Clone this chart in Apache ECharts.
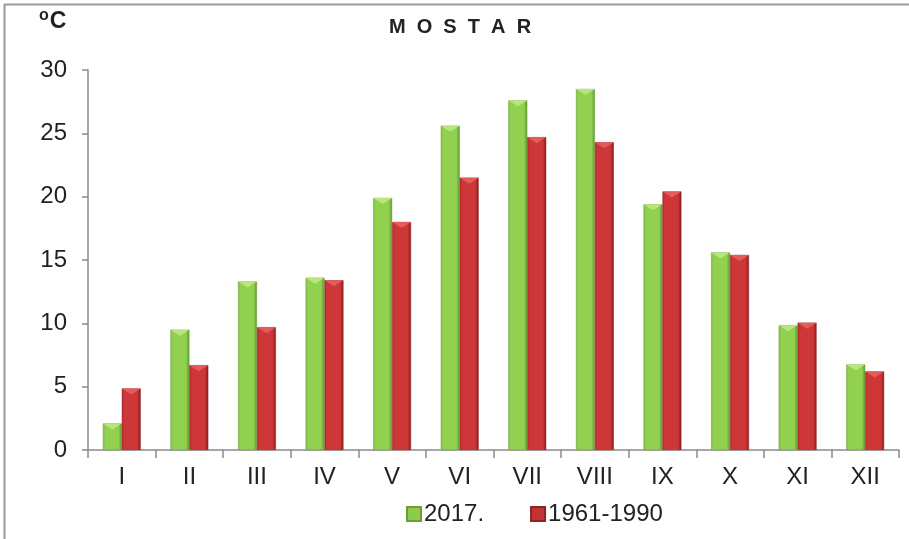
<!DOCTYPE html>
<html><head><meta charset="utf-8">
<script src="https://cdn.jsdelivr.net/npm/echarts@6/dist/echarts.min.js"></script>
<style>html,body{margin:0;padding:0;background:#fff}#c{width:909px;height:539px}</style>
</head><body><div id="c"></div>
<script>
const categories = ['I','II','III','IV','V','VI','VII','VIII','IX','X','XI','XII'];
const values2017 = [2.1, 9.5, 13.3, 13.6, 19.9, 25.6, 27.6, 28.5, 19.4, 15.6, 9.85, 6.75];
const values1961 = [4.85, 6.7, 9.7, 13.4, 18.0, 21.5, 24.7, 24.3, 20.4, 15.4, 10.05, 6.2];
const yTicks = [0, 5, 10, 15, 20, 25, 30];

const F = 'Liberation Sans, Arial, sans-serif';
function grad(c1, c2, c3) {
  return new echarts.graphic.LinearGradient(0, 0, 1, 0, [
    {offset: 0, color: c1}, {offset: 0.14, color: c2}, {offset: 0.82, color: c2}, {offset: 1, color: c3}
  ]);
}
const greenFill = grad('#7fc143', '#92d050', '#5b982b');
const redFill = grad('#b9292c', '#cd3737', '#871b1d');
const tri = 'path://M0,0 L20,0 L10,6 Z';

const chart = echarts.init(document.getElementById('c'), null, {renderer: 'canvas'});
chart.setOption({
  animation: false,
  backgroundColor: '#fff',
  title: {
    text: 'M  O  S  T  A  R', left: 455, top: 12, textAlign: 'center',
    textStyle: {fontFamily: F, fontSize: 20, fontWeight: 'bold', color: '#222'}
  },
  graphic: [
    {type: 'line', shape: {x1: 4.5, y1: 4, x2: 4.5, y2: 539}, style: {stroke: '#9a9a9a', lineWidth: 2}},
    {type: 'line', shape: {x1: 4, y1: 4.5, x2: 909, y2: 4.5}, style: {stroke: '#9a9a9a', lineWidth: 2}},
    {type: 'text', left: 39, top: 8, style: {
      text: '{s|o}{c|C}', rich: {
        s: {fontFamily: F, fontSize: 16, fontWeight: 'bold', fill: '#222', verticalAlign: 'top', padding: [0, 1, 12, 0]},
        c: {fontFamily: F, fontSize: 23, fontWeight: 'bold', fill: '#222'}
      }
    }}
  ],
  legend: {
    top: 497, left: 401, itemGap: 46, itemWidth: 14, itemHeight: 14,
    icon: 'rect',
    textStyle: {fontFamily: F, fontSize: 24, color: '#222', padding: [0, 0, 0, -2]},
    data: [
      {name: '2017.', itemStyle: {color: '#8ccc4a'}},
      {name: '1961-1990', itemStyle: {color: '#c43334'}}
    ]
  },
  grid: {left: 88, right: 10, top: 70, bottom: 89, containLabel: false},
  xAxis: {
    type: 'category', data: categories,
    axisLine: {lineStyle: {color: '#8a8a8a', width: 1.5}},
    axisTick: {show: true, length: 8, lineStyle: {color: '#8a8a8a', width: 1.5}},
    axisLabel: {fontFamily: F, fontSize: 24, color: '#222', margin: 15}
  },
  yAxis: {
    type: 'value', min: yTicks[0], max: yTicks[yTicks.length - 1], interval: 5,
    splitLine: {show: false},
    axisLine: {show: true, lineStyle: {color: '#8a8a8a', width: 1.5}},
    axisTick: {show: true, inside: false, length: 6, lineStyle: {color: '#8a8a8a', width: 1.5}},
    axisLabel: {fontFamily: F, fontSize: 24, color: '#222', margin: 21}
  },
  series: [
    {name: '2017.', type: 'bar', data: values2017, barGap: '0%', barCategoryGap: '44%',
      itemStyle: {color: greenFill, borderColor: '#6a9e3a', borderWidth: 0.5}},
    {name: '1961-1990', type: 'bar', data: values1961, barGap: '0%', barCategoryGap: '44%',
      itemStyle: {color: redFill, borderColor: '#8e2224', borderWidth: 0.5}},
    {name: '2017.', type: 'pictorialBar', data: values2017, barGap: '0%', barCategoryGap: '44%',
      symbol: tri, symbolSize: ['100%', 6], symbolPosition: 'end',
      itemStyle: {color: '#b8e57d'}, z: 3, silent: true},
    {name: '1961-1990', type: 'pictorialBar', data: values1961, barGap: '0%', barCategoryGap: '44%',
      symbol: tri, symbolSize: ['100%', 6], symbolPosition: 'end',
      itemStyle: {color: '#e25c5c'}, z: 3, silent: true}
  ]
});
</script></body></html>
